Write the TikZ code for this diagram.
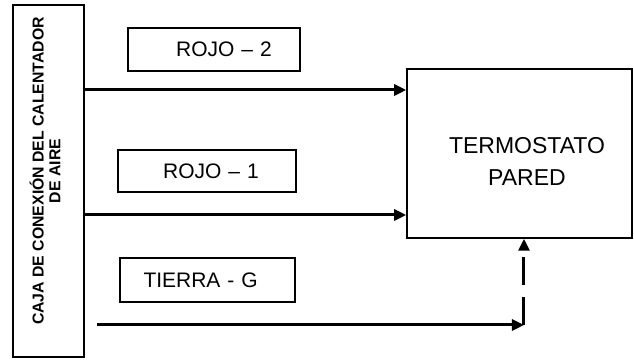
\documentclass[tikz,border=0pt]{standalone}
\usepackage{fontspec}
\setmainfont{Liberation Sans}
\usetikzlibrary{calc,positioning,arrows.meta}

\begin{document}
\begin{tikzpicture}[x=0.5pt,y=-0.5pt]
  \useasboundingbox (0,0) rectangle (634,362);
  \tikzset{
    boxed/.style={draw,line width=0.75pt,inner sep=0pt,font=\fontsize{10.5}{13}\selectfont},
    wire/.style={line width=1.5pt,-{Triangle[length=6pt,width=5.5pt]}}
  }
  \node[boxed,minimum width=35.5pt,minimum height=176pt] (caja) at (48.5,181) {};
  \node[rotate=90,align=center,font=\bfseries\fontsize{7.9}{8.4}\selectfont] (cajatxt) at (45,171) {CAJA DE CONEXIÓN DEL CALENTADOR\\DE AIRE};
  \node[boxed,minimum width=112.5pt,minimum height=84.5pt] (termo) at (519.5,153.5) {};
  \node[align=center,font=\fontsize{11.5}{16}\selectfont] (termotxt) at (527,161) {TERMOSTATO\\PARED};
  \node[boxed,minimum width=86pt,minimum height=21.5pt,text width=78pt,align=center] (rojo2) at (214,49.5) {\hspace*{10pt}ROJO -- 2};
  \node[boxed,minimum width=89pt,minimum height=21pt,text width=81pt,align=center] (rojo1) at (207,171) {\hspace*{4pt}ROJO -- 1};
  \node[boxed,minimum width=87.5pt,minimum height=22pt,text width=78pt] (tierra) at (207.5,280) {\hspace*{7pt}TIERRA - G};
  \coordinate (g) at (524,325);
  \draw[wire] (caja.east |- 0,90) -- (termo.west |- 0,90);
  \draw[wire] (caja.east |- 0,215) -- (termo.west |- 0,215);
  \draw[wire] (97,325) -- (g);
  \draw[wire,dash pattern=on 14pt off 6pt] (g) -- (g |- termo.south);
\end{tikzpicture}
\end{document}
